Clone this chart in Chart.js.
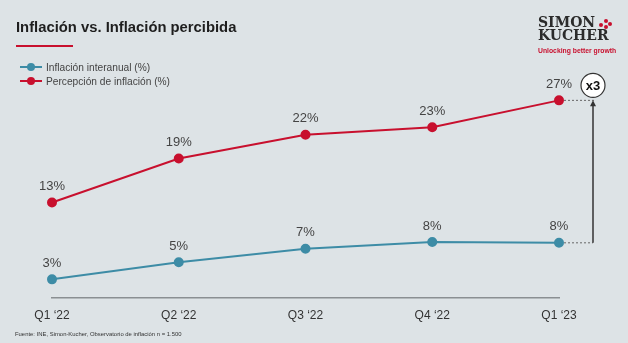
<!DOCTYPE html>
<html>
<head>
<meta charset="utf-8">
<script src="https://cdn.jsdelivr.net/npm/chart.js@4.4.1/dist/chart.umd.min.js"></script>
<style>
  html, body { margin: 0; padding: 0; }
  body { width: 628px; height: 343px; background: #dde3e6; position: relative; overflow: hidden;
         font-family: "Liberation Sans", Arial, sans-serif; color: #333; }
  #wrap { position: absolute; left: 0; top: 0; width: 628px; height: 343px; }
  .title { position: absolute; left: 16px; top: 19px; font-size: 14.8px; font-weight: bold; color: #1e1e1e; white-space: nowrap; }
  .rule { position: absolute; left: 16px; top: 45px; width: 57px; height: 2px; background: #c8102e; }
  .leg { position: absolute; left: 20px; font-size: 10.2px; color: #444; white-space: nowrap; }
  .leg i { display: inline-block; position: relative; width: 22px; height: 2px; vertical-align: middle; margin-right: 4px; top: -1px; }
  .leg i b { position: absolute; left: 7px; top: -3px; width: 8px; height: 8px; border-radius: 50%; }
  .logo { position: absolute; left: 538px; top: 16px; font-family: "DejaVu Serif", serif; font-weight: bold;
          font-size: 14px; line-height: 13px; color: #2b2b2b; }
  .tag { position: absolute; left: 538px; top: 47px; font-size: 6.8px; font-weight: bold; color: #c8102e; white-space: nowrap; }
  .dot { position: absolute; width: 4px; height: 4px; border-radius: 50%; background: #c8102e; }
  .src { position: absolute; left: 15px; top: 331px; font-size: 5.9px; color: #333; white-space: nowrap; }
</style>
</head>
<body>
<div id="wrap"><canvas id="chart" width="628" height="343"></canvas></div>
<div class="title">Inflación vs. Inflación percibida</div>
<div class="rule"></div>
<div class="leg" style="top:62px"><i style="background:#3d8ca6"><b style="background:#3d8ca6"></b></i>Inflación interanual (%)</div>
<div class="leg" style="top:76px"><i style="background:#c8102e"><b style="background:#c8102e"></b></i>Percepción de inflación (%)</div>
<div class="logo">SIMON<br>KUCHER</div>
<div class="dot" style="left:599px;top:23px"></div>
<div class="dot" style="left:604px;top:19px"></div>
<div class="dot" style="left:604px;top:25px"></div>
<div class="dot" style="left:608px;top:22px"></div>
<div class="tag">Unlocking better growth</div>
<div class="src">Fuente: INE, Simon-Kucher, Observatorio de inflación n = 1.500</div>
<script>
const quarters = ["Q1 \u201822", "Q2 \u201822", "Q3 \u201822", "Q4 \u201822", "Q1 \u201823"];
const inflacionInteranual = [3.0, 5.3, 7.1, 8.0, 7.9];
const percepcionInflacion = [13.3, 19.2, 22.4, 23.4, 27.0];

const blue = "#3d8ca6";
const red = "#c8102e";

// value labels above each point
const valueLabels = {
    id: "valueLabels",
    afterDatasetsDraw(chart) {
        const ctx = chart.ctx;
        ctx.save();
        ctx.font = "13px 'Liberation Sans', Arial, sans-serif";
        ctx.fillStyle = "#444";
        ctx.textAlign = "center";
        ctx.textBaseline = "middle";
        chart.data.datasets.forEach((ds, i) => {
            chart.getDatasetMeta(i).data.forEach((pt, j) => {
                ctx.fillText(Math.round(ds.data[j]) + "%", pt.x, pt.y - 16);
            });
        });
        ctx.restore();
    }
};

// "x3" arrow between the last two points
const growthMarker = {
    id: "growthMarker",
    afterDatasetsDraw(chart) {
        const ctx = chart.ctx;
        const lo = chart.getDatasetMeta(0).data[4];
        const hi = chart.getDatasetMeta(1).data[4];
        const ax = lo.x + 34;
        ctx.save();
        ctx.strokeStyle = "#666";
        ctx.lineWidth = 1;
        ctx.setLineDash([2, 2]);
        ctx.beginPath();
        ctx.moveTo(hi.x + 5, hi.y); ctx.lineTo(ax + 2, hi.y);
        ctx.moveTo(lo.x + 5, lo.y); ctx.lineTo(ax, lo.y);
        ctx.stroke();
        ctx.setLineDash([]);
        ctx.strokeStyle = "#333";
        ctx.fillStyle = "#333";
        ctx.lineWidth = 1.5;
        ctx.beginPath();
        ctx.moveTo(ax, lo.y); ctx.lineTo(ax, hi.y + 4);
        ctx.stroke();
        ctx.beginPath();
        ctx.moveTo(ax, hi.y); ctx.lineTo(ax - 3, hi.y + 6); ctx.lineTo(ax + 3, hi.y + 6);
        ctx.closePath(); ctx.fill();
        // circle badge
        ctx.beginPath();
        ctx.arc(ax, hi.y - 15, 12, 0, Math.PI * 2);
        ctx.fillStyle = "#fff"; ctx.fill();
        ctx.lineWidth = 1.2; ctx.strokeStyle = "#333"; ctx.stroke();
        ctx.fillStyle = "#111";
        ctx.font = "bold 13px 'Liberation Sans', Arial, sans-serif";
        ctx.textAlign = "center"; ctx.textBaseline = "middle";
        ctx.fillText("x3", ax, hi.y - 14);
        ctx.restore();
    }
};

new Chart(document.getElementById("chart"), {
    type: "line",
    data: {
        labels: quarters,
        datasets: [{
            label: "Inflación interanual (%)",
            data: inflacionInteranual,
            borderColor: blue,
            backgroundColor: blue,
            borderWidth: 2,
            pointRadius: 4,
            pointHoverRadius: 4,
            tension: 0
        }, {
            label: "Percepción de inflación (%)",
            data: percepcionInflacion,
            borderColor: red,
            backgroundColor: red,
            borderWidth: 2,
            pointRadius: 4,
            pointHoverRadius: 4,
            tension: 0
        }]
    },
    options: {
        responsive: false,
        animation: false,
        layout: { padding: { left: 52, right: 69, top: 78, bottom: 0 } },
        plugins: { legend: { display: false }, tooltip: { enabled: false } },
        scales: {
            x: {
                offset: false,
                grid: { display: false, drawTicks: false },
                border: { display: true, color: "#8a8f92", width: 1.5 },
                ticks: { color: "#333", font: { size: 12, family: "'Liberation Sans', Arial, sans-serif" }, padding: 10, maxRotation: 0 },
                afterFit: s => { s.height = 45; }
            },
            y: {
                display: false,
                min: 0.5,
                max: 30
            }
        }
    },
    plugins: [valueLabels, growthMarker]
});
</script>
</body>
</html>
